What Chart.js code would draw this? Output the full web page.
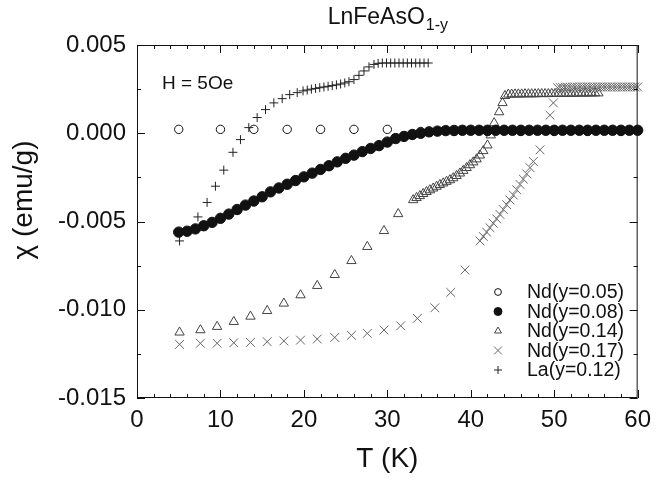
<!DOCTYPE html>
<html>
<head>
<meta charset="utf-8">
<script src="https://cdn.jsdelivr.net/npm/chart.js@4/dist/chart.umd.min.js"></script>
<style>
  html, body { margin: 0; padding: 0; background: #fff; }
  #chart { display: block; }
</style>
</head>
<body>
<canvas id="chart" width="659" height="478"></canvas>
<script>
// susceptibility vs temperature, LnFeAsO(1-y), H = 5 Oe

// Nd(y=0.05)
const nd005T = [5, 10, 14, 18, 22, 26, 30, 34, 38, 42, 46, 50, 54, 58];
const nd005Chi = [0.00022, 0.00022, 0.00022, 0.00022, 0.00022, 0.00022, 0.00022, 0.0001, 0.0001, 0.0001, 0.0001, 0.0001, 0.0001, 0.0001];

// Nd(y=0.08)
const nd008T = [5, 6, 7, 8, 9, 10, 11, 12, 13, 14, 15, 16, 17, 18, 19, 20, 21, 22, 23, 24, 25, 26, 27, 28, 29, 30,
  31, 32, 33, 34, 35, 36, 37, 38, 39, 40, 41, 42, 43, 44, 45, 46, 47, 48, 49, 50, 51, 52, 53, 54, 55, 56, 57, 58, 59, 60];
const nd008Chi = [-0.0056, -0.00555, -0.00542, -0.00524, -0.00505, -0.00482, -0.00458, -0.00432, -0.00407, -0.00384,
  -0.0036, -0.00332, -0.0031, -0.00289, -0.00268, -0.00247, -0.00226, -0.00205, -0.00184, -0.00162,
  -0.00142, -0.00124, -0.00104, -0.00086, -0.0007, -0.0005, -0.0003, -0.00018, -0.00007, 0.0,
  0.00008, 0.00012, 0.00015, 0.00016, 0.00017, 0.00017, 0.00017, 0.00017, 0.00017, 0.00017,
  0.00017, 0.00017, 0.00017, 0.00017, 0.00017, 0.00017, 0.00017, 0.00017, 0.00017, 0.00017,
  0.00017, 0.00017, 0.00017, 0.00017, 0.00017, 0.00017];

// Nd(y=0.14)
const nd014T = [5.1, 7.6, 9.6, 11.6, 13.6, 15.6, 17.6, 19.6, 21.6, 23.7, 25.7, 27.6, 29.6, 31.3,
  33.1, 33.5, 33.9, 34.3, 34.7, 35.1, 35.5, 35.9, 36.3, 36.7, 37.1, 37.5, 37.9, 38.3, 38.7, 39.1, 39.5, 39.9, 40.3, 40.7, 41.1, 41.5,
  42.0, 42.4, 42.8, 43.4, 43.8, 44.1,
  44.5, 44.9, 45.3, 45.7, 46.1, 46.5, 46.9, 47.3, 47.7, 48.1, 48.5, 48.9, 49.3, 49.7, 50.1, 50.5, 50.9, 51.3, 51.7, 52.1,
  52.5, 52.9, 53.3, 53.7, 54.1, 54.5, 54.9, 55.3];
const nd014Chi = [-0.01128, -0.01115, -0.01096, -0.01068, -0.01038, -0.01006, -0.00964, -0.00917, -0.00864, -0.00802, -0.00723, -0.00643, -0.00553, -0.00457,
  -0.00378, -0.00366, -0.00355, -0.00343, -0.00332, -0.00322, -0.00312, -0.00302, -0.00292, -0.00283, -0.00274, -0.00265, -0.00254, -0.00241, -0.00227, -0.00212, -0.00196, -0.0018, -0.00164, -0.00147, -0.00125, -0.001,
  -0.00068, -0.00011, 0.00058, 0.0012, 0.00172, 0.00212,
  0.0022, 0.0022, 0.00221, 0.00221, 0.00221, 0.00222, 0.00222, 0.00222, 0.00222, 0.00223, 0.00223, 0.00223, 0.00223, 0.00224, 0.00224, 0.00224, 0.00224, 0.00225, 0.00225, 0.00225,
  0.00225, 0.00226, 0.00226, 0.00226, 0.00226, 0.00227, 0.00227, 0.00227];

// Nd(y=0.17)
const nd017T = [5.1, 7.6, 9.6, 11.6, 13.6, 15.6, 17.6, 19.6, 21.6, 23.7, 25.7, 27.6, 29.6, 31.6, 33.6, 35.7, 37.6, 39.3,
  41.1, 41.5, 41.9, 42.3, 42.7, 43.1, 43.5, 43.9, 44.3, 44.7, 45.1, 45.5, 45.9, 46.3, 46.7, 47.1, 47.5, 48.3,
  49.5, 49.9,
  50.4, 50.7, 51.0, 51.3, 51.6, 51.9, 52.2, 52.5, 52.8, 53.1, 53.4, 53.7, 54.0, 54.3, 54.6, 54.9, 55.2, 55.5, 55.8, 56.1,
  56.4, 56.7, 57.0, 57.3, 57.6, 57.9, 58.2, 58.5, 58.8, 59.1, 59.4, 59.7, 60.0];
const nd017Chi = [-0.01196, -0.0119, -0.0119, -0.01187, -0.01185, -0.01181, -0.01177, -0.01172, -0.01166, -0.01157, -0.01145, -0.01134, -0.01115, -0.01091, -0.01049, -0.00989, -0.00902, -0.00775,
  -0.0061, -0.00585, -0.0056, -0.00535, -0.0051, -0.00485, -0.0046, -0.00432, -0.00405, -0.00378, -0.0035, -0.0032, -0.0029, -0.0026, -0.0023, -0.00195, -0.0016, -0.00094,
  0.00102, 0.00172,
  0.00258, 0.0026, 0.0026, 0.00261, 0.00261, 0.00261, 0.00262, 0.00262, 0.00262, 0.00262, 0.00262, 0.00262, 0.00262, 0.00262, 0.00262, 0.00262, 0.00262, 0.00262, 0.00262, 0.00262,
  0.00262, 0.00262, 0.00262, 0.00262, 0.00262, 0.00262, 0.00262, 0.00262, 0.00262, 0.00262, 0.00262, 0.00262, 0.00262];

// La(y=0.12)
const la012T = [5.1, 7.3, 8.4, 9.4, 10.4, 11.5, 12.4, 13.4, 14.4, 15.4, 16.4, 17.4, 18.3, 19.2, 19.9,
  20.4, 20.9, 21.4, 21.9, 22.4, 22.9, 23.4, 23.9, 24.4, 24.9, 25.4, 26.0, 26.6, 27.2, 27.8, 28.4,
  28.9, 29.4, 29.9, 30.4, 30.9, 31.4, 31.9, 32.4, 32.9, 33.4, 33.9, 34.4, 34.9];
const la012Chi = [-0.0061, -0.00474, -0.00392, -0.003, -0.00209, -0.00108, -0.00036, 0.00032, 0.00089, 0.00134, 0.00172, 0.00196, 0.00219, 0.0023, 0.0024,
  0.00245, 0.0025, 0.00254, 0.00258, 0.00262, 0.00266, 0.0027, 0.00274, 0.00279, 0.00285, 0.00292, 0.00304, 0.00328, 0.00353, 0.00376, 0.0039,
  0.00396, 0.00398, 0.00398, 0.00398, 0.00398, 0.00398, 0.00398, 0.00398, 0.00398, 0.00398, 0.00398, 0.00398, 0.00398];

const seriesLabels = ['Nd(y=0.05)', 'Nd(y=0.08)', 'Nd(y=0.14)', 'Nd(y=0.17)', 'La(y=0.12)'];
const xTickMin = 0, xTickMax = 60;
const yTickMin = -0.015, yTickMax = 0.005;
const titleMain = 'LnFeAsO';
const titleSub = '1-y';
const fieldNote = 'H = 5Oe';

const FONT = '"Liberation Sans", Arial, Helvetica, sans-serif';

const toPts = (xs, ys) => xs.map((t, i) => ({ x: t, y: ys[i] }));

const datasets = [
  { label: seriesLabels[0], data: toPts(nd005T, nd005Chi), pointStyle: 'circle', pointRadius: 4.2,
    pointBackgroundColor: 'rgba(0,0,0,0)', pointBorderColor: '#111', pointBorderWidth: 1, order: 4,
    legendRadius: 3.4 },
  { label: seriesLabels[1], data: toPts(nd008T, nd008Chi), pointStyle: 'circle', pointRadius: 5.2,
    pointBackgroundColor: '#111', pointBorderColor: '#111', pointBorderWidth: 1, order: 0,
    legendRadius: 4 },
  { label: seriesLabels[2], data: toPts(nd014T, nd014Chi), pointStyle: 'triangle', pointRadius: 5.4,
    pointBackgroundColor: 'rgba(255,255,255,0)', pointBorderColor: '#444', pointBorderWidth: 1, order: 3,
    legendRadius: 4 },
  { label: seriesLabels[3], data: toPts(nd017T, nd017Chi), pointStyle: 'crossRot', pointRadius: 6.2,
    pointBackgroundColor: 'rgba(0,0,0,0)', pointBorderColor: '#666', pointBorderWidth: 1, order: 1,
    legendRadius: 5.5 },
  { label: seriesLabels[4], data: toPts(la012T, la012Chi), pointStyle: 'cross', pointRadius: 4.5,
    pointBackgroundColor: 'rgba(0,0,0,0)', pointBorderColor: '#222', pointBorderWidth: 1, order: 2,
    legendRadius: 4 }
];
datasets.forEach(d => { d.showLine = false; d.clip = false; d.pointHoverRadius = d.pointRadius; });

const isMajorX = v => Math.abs(v % 10) < 1e-9;
const isMajorY = v => Math.abs(Math.round(v / 0.0025)) % 2 === 0;

// box and inward ticks on all four sides
const frameTicks = {
  id: 'frameTicks',
  afterDatasetsDraw(chart) {
    const { ctx, chartArea: a, scales: { x, y } } = chart;
    ctx.save();
    ctx.strokeStyle = '#111';
    ctx.lineWidth = 1;
    ctx.strokeRect(a.left + 0.5, a.top + 0.5, a.right - a.left - 1, a.bottom - a.top - 1);
    ctx.beginPath();
    x.ticks.forEach(t => {
      const px = Math.round(x.getPixelForValue(t.value)) + 0.5;
      const len = isMajorX(t.value) ? 8 : 4;
      ctx.moveTo(px, a.bottom); ctx.lineTo(px, a.bottom - len);
      ctx.moveTo(px, a.top); ctx.lineTo(px, a.top + len);
    });
    y.ticks.forEach(t => {
      const py = Math.round(y.getPixelForValue(t.value)) + 0.5;
      const len = isMajorY(t.value) ? 8 : 4;
      ctx.moveTo(a.left, py); ctx.lineTo(a.left + len, py);
      ctx.moveTo(a.right, py); ctx.lineTo(a.right - len, py);
    });
    ctx.stroke();
    ctx.restore();
  }
};

// title with subscript, axis titles, field note and legend
const texts = {
  id: 'texts',
  afterDraw(chart) {
    const { ctx, chartArea: a } = chart;
    const cx = (a.left + a.right) / 2;
    ctx.save();
    ctx.fillStyle = '#111';
    ctx.textBaseline = 'alphabetic';

    ctx.font = '23px ' + FONT;
    const wMain = ctx.measureText(titleMain).width;
    ctx.font = '16px ' + FONT;
    const wSub = ctx.measureText(titleSub).width;
    const tx = cx - (wMain + wSub) / 2;
    ctx.textAlign = 'left';
    ctx.font = '23px ' + FONT;
    ctx.fillText(titleMain, tx, 24);
    ctx.font = '16px ' + FONT;
    ctx.fillText(titleSub, tx + wMain + 1, 30);

    ctx.font = '28px ' + FONT;
    ctx.textAlign = 'center';
    ctx.fillText('T (K)', cx, 467);

    ctx.save();
    ctx.translate(32, 200);
    ctx.rotate(-Math.PI / 2);
    ctx.fillText('χ (emu/g)', 0, 0);
    ctx.restore();

    ctx.font = '19px ' + FONT;
    ctx.textAlign = 'left';
    ctx.textBaseline = 'middle';
    ctx.fillText(fieldNote, 162, 84);

    // legend
    chart.data.datasets.forEach((d, i) => {
      const ly = 292 + i * 19.5;
      ctx.fillStyle = d.pointBackgroundColor;
      ctx.strokeStyle = d.pointBorderColor;
      ctx.lineWidth = d.pointBorderWidth;
      Chart.helpers.drawPoint(ctx, { pointStyle: d.pointStyle, radius: d.legendRadius, rotation: 0, borderWidth: 1 }, 498, ly);
      ctx.fillStyle = '#111';
      ctx.font = '19.5px ' + FONT;
      ctx.fillText(d.label, 527, ly + 1);
    });
    ctx.restore();
  }
};

new Chart(document.getElementById('chart'), {
  type: 'scatter',
  data: { datasets },
  options: {
    responsive: false,
    animation: false,
    devicePixelRatio: 1,
    layout: { padding: { top: 45, right: 14, left: 0, bottom: 0 } },
    plugins: { legend: { display: false }, tooltip: { enabled: false }, title: { display: false } },
    scales: {
      x: {
        type: 'linear', min: xTickMin, max: xTickMax,
        grid: { display: false, drawTicks: false },
        border: { display: false },
        ticks: {
          stepSize: 2, autoSkip: false, maxRotation: 0, padding: 8,
          color: '#111', font: { family: FONT, size: 24 },
          callback: v => isMajorX(v) ? String(Math.round(v)) : ''
        },
        afterFit: s => { s.height = 80; }
      },
      y: {
        type: 'linear', min: yTickMin, max: yTickMax,
        grid: { display: false, drawTicks: false },
        border: { display: false },
        ticks: {
          stepSize: 0.0025, autoSkip: false, padding: 11,
          color: '#111', font: { family: FONT, size: 24 },
          callback: v => isMajorY(v) ? (Math.abs(v) < 1e-9 ? '0.000' : v.toFixed(3)) : ''
        },
        afterFit: s => { s.width = 137; }
      }
    }
  },
  plugins: [frameTicks, texts]
});
</script>
</body>
</html>
